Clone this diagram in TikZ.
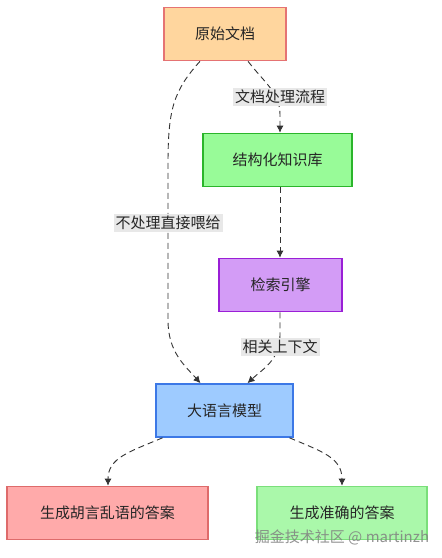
\documentclass[tikz,border=0pt]{standalone}
\usepackage{fontspec}
\setmainfont{Noto Sans CJK SC}
\usetikzlibrary{arrows.meta,calc}
\definecolor{edgecol}{HTML}{333333}
\definecolor{lblbg}{HTML}{E8E8E8}
\definecolor{docD}{HTML}{E57373}\definecolor{docF}{HTML}{FFD69E}
\definecolor{kbD}{HTML}{2BB52B}\definecolor{kbF}{HTML}{98FB98}
\definecolor{seD}{HTML}{9A1FD6}\definecolor{seF}{HTML}{D39CF6}
\definecolor{llmD}{HTML}{3C78E6}\definecolor{llmF}{HTML}{9ECBFF}
\definecolor{badD}{HTML}{DE6B6B}\definecolor{badF}{HTML}{FFAAAA}
\definecolor{goodD}{HTML}{7ADF7A}\definecolor{goodF}{HTML}{AAF8AA}
\tikzset{
  x=1pt,y=-1pt,
  box/.style={draw,line width=1.6pt,minimum height=53pt,inner sep=0pt,font=\fontsize{15}{18}\selectfont,text=black!85},
  flow/.style={draw=edgecol,line width=0.9pt,dash pattern=on 6pt off 4pt,-{Latex[length=7pt,width=7pt]}},
  lbl/.style={fill=lblbg,inner sep=2pt,font=\fontsize{15}{18}\selectfont,text=black!85},
}
\begin{document}
\begin{tikzpicture}
\useasboundingbox[fill=white] (0,0) rectangle (442,558);
\node[box,draw=docD,fill=docF,minimum width=122pt] (doc) at (225,34) {原始文档};
\node[box,draw=kbD,fill=kbF,minimum width=149pt] (kb) at (277.5,160) {结构化知识库};
\node[box,draw=seD,fill=seF,minimum width=123pt] (se) at (280.5,285) {检索引擎};
\node[box,draw=llmD,fill=llmF,minimum width=137pt] (llm) at (224.5,410.5) {大语言模型};
\node[box,draw=badD,fill=badF,minimum width=201pt] (bad) at (107.5,513) {生成胡言乱语的答案};
\node[box,draw=goodD,fill=goodF,minimum width=170pt] (good) at (342,513) {生成准确的答案};

\draw[flow] ($(doc.south)+(23,0)$) .. controls ($(doc.south)+(40,22)$) and ($(kb.north)+(2.5,-40)$) .. ($(kb.north)+(2.5,-18)$) -- ($(kb.north)+(2.5,0)$);
\node[lbl] (l1) at (280,97) {文档处理流程};

\draw[flow] ($(doc.south)+(-25,0)$) .. controls ($(doc.south)+(-52,30)$) and (168,110) .. (168,165) -- (168,320) .. controls (168,352) and ($(llm.north)+(-40,-18)$) .. ($(llm.north)+(-24,0)$);
\node[lbl] (l2) at (168,223) {不处理直接喂给};

\draw[flow] ($(kb.south)+(2.5,0)$) -- ($(se.north)+(-0.5,0)$);

\draw[flow] ($(se.south)+(-0.5,0)$) -- (280,335) .. controls (280,360) and ($(llm.north)+(38,-14)$) .. ($(llm.north)+(23,0)$);
\node[lbl] (l3) at (280,347) {相关上下文};

\draw[flow] ($(llm.south)+(-62,0)$) .. controls ($(llm.south)+(-95,14)$) and ($(bad.north)+(0.5,-28)$) .. ($(bad.north)+(0.5,0)$);
\draw[flow] ($(llm.south)+(65,0)$) .. controls ($(llm.south)+(98,14)$) and ($(good.north)+(0,-28)$) .. ($(good.north)+(0,0)$);

\node[text=black!50,text opacity=0.85,font=\fontsize{15}{16}\selectfont,inner sep=0pt] (wm) at (342,537) {掘金技术社区 @ martinzh};
\end{tikzpicture}
\end{document}
